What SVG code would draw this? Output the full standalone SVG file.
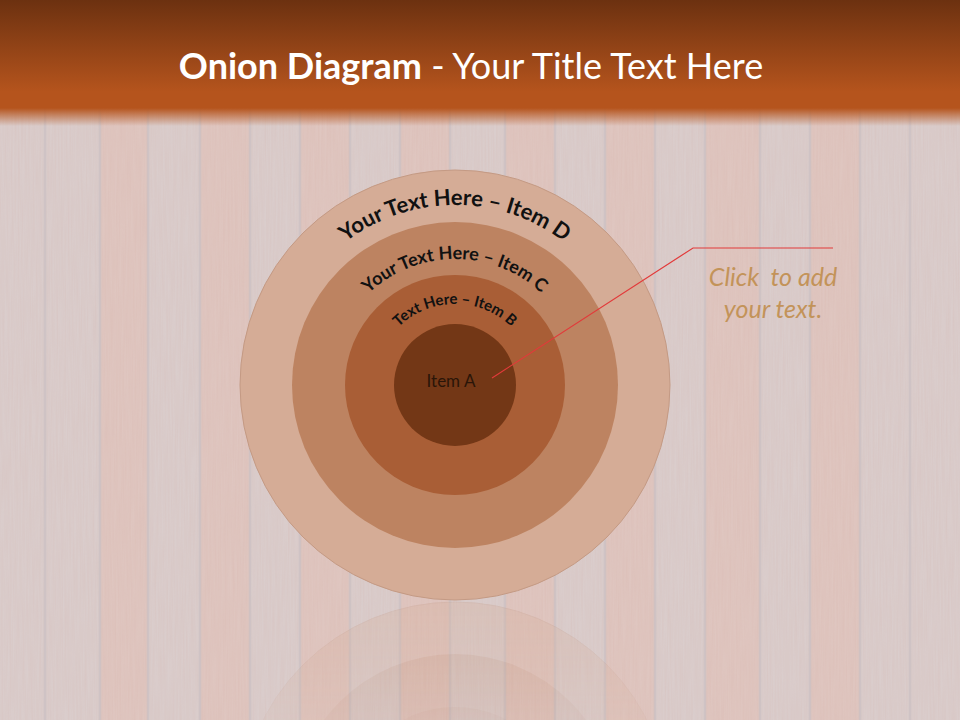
<svg xmlns="http://www.w3.org/2000/svg" width="960" height="720" viewBox="0 0 960 720">
  <defs>
    <linearGradient id="hdr" x1="0" y1="0" x2="0" y2="1">
      <stop offset="0" stop-color="#6c3110"/>
      <stop offset="0.85" stop-color="#b5541d"/>
      <stop offset="1" stop-color="#b5541d"/>
    </linearGradient>
    <linearGradient id="hdrfade" x1="0" y1="0" x2="0" y2="1">
      <stop offset="0" stop-color="#b5541d" stop-opacity="1"/>
      <stop offset="1" stop-color="#b5541d" stop-opacity="0"/>
    </linearGradient>
    <linearGradient id="reflFade" gradientUnits="userSpaceOnUse" x1="0" y1="600" x2="0" y2="720">
      <stop offset="0" stop-color="#fff" stop-opacity="0.3"/>
      <stop offset="1" stop-color="#fff" stop-opacity="0.1"/>
    </linearGradient>
    <mask id="reflMask" maskUnits="userSpaceOnUse" x="0" y="600" width="960" height="120">
      <rect x="0" y="600" width="960" height="120" fill="url(#reflFade)"/>
    </mask>
    <filter id="grain" x="0" y="0" width="100%" height="100%">
      <feTurbulence type="fractalNoise" baseFrequency="0.6 0.02" numOctaves="2" seed="4" result="n"/>
      <feColorMatrix type="matrix" values="0 0 0 0 0.6  0 0 0 0 0.3  0 0 0 0 0.25  0 0 0 0.5 -0.1"/>
    </filter>
    <path id="arcD" d="M 275 385 A 180 180 0 0 1 635 385"/>
    <path id="arcC" d="M 329 385 A 126 126 0 0 1 581 385"/>
    <path id="arcB" d="M 374 385 A 81 81 0 0 1 536 385"/>
    <style>
      .plankA { fill: #dacdcc; }
      .plankB { fill: #dfc6c0; }
      .seam { stroke: #cbc1c4; stroke-width: 2.5; opacity: 0.7; }
      .ring-d { fill: #d5ac96; stroke: #c49a84; stroke-width: 1; }
      .ring-c { fill: #bd8361; }
      .ring-b { fill: #a95e36; }
      .ring-a { fill: #733716; }
      .arc-text { font-family: Lato, "Open Sans", sans-serif; font-weight: bold; fill: #111; }
      .leader { fill: none; stroke: #e23a3a; stroke-width: 1.2; }
      .callout { font-family: Lato, "Open Sans", sans-serif; font-style: italic; font-size: 25px; fill: #c39359; white-space: pre; }
    </style>
  </defs>

  <!-- background wood planks -->
  <g id="background">
    <rect x="0" y="0" width="960" height="720" class="plankA"/>
    <rect x="100" y="0" width="48" height="720" class="plankB"/>
    <rect x="200" y="0" width="50" height="720" class="plankB"/>
    <rect x="300" y="0" width="50" height="720" class="plankB"/>
    <rect x="400" y="0" width="50" height="720" class="plankB"/>
    <rect x="505" y="0" width="50" height="720" class="plankB"/>
    <rect x="605" y="0" width="50" height="720" class="plankB"/>
    <rect x="705" y="0" width="55" height="720" class="plankB"/>
    <rect x="810" y="0" width="50" height="720" class="plankB"/>
    <rect x="0" y="0" width="960" height="720" filter="url(#grain)" opacity="0.3"/>
    <g class="seam">
      <line x1="45" y1="0" x2="45" y2="720"/>
      <line x1="100" y1="0" x2="100" y2="720"/>
      <line x1="148" y1="0" x2="148" y2="720"/>
      <line x1="200" y1="0" x2="200" y2="720"/>
      <line x1="250" y1="0" x2="250" y2="720"/>
      <line x1="300" y1="0" x2="300" y2="720"/>
      <line x1="350" y1="0" x2="350" y2="720"/>
      <line x1="400" y1="0" x2="400" y2="720"/>
      <line x1="450" y1="0" x2="450" y2="720"/>
      <line x1="505" y1="0" x2="505" y2="720"/>
      <line x1="555" y1="0" x2="555" y2="720"/>
      <line x1="605" y1="0" x2="605" y2="720"/>
      <line x1="655" y1="0" x2="655" y2="720"/>
      <line x1="705" y1="0" x2="705" y2="720"/>
      <line x1="760" y1="0" x2="760" y2="720"/>
      <line x1="810" y1="0" x2="810" y2="720"/>
      <line x1="860" y1="0" x2="860" y2="720"/>
      <line x1="910" y1="0" x2="910" y2="720"/>
    </g>
  </g>

  <!-- header band -->
  <g id="header">
    <rect x="0" y="0" width="960" height="108" fill="url(#hdr)"/>
    <rect x="0" y="108" width="960" height="18" fill="url(#hdrfade)"/>
    <text x="471" y="79" text-anchor="middle" font-family="Lato, 'Open Sans', sans-serif" font-size="36" fill="#ffffff"><tspan font-weight="bold">Onion Diagram</tspan><tspan> - Your Title Text Here</tspan></text>
  </g>

  <!-- reflection -->
  <g id="reflection" mask="url(#reflMask)">
    <g transform="translate(0,1202) scale(1,-1)">
      <circle cx="455" cy="385" r="215" class="ring-d"/>
      <circle cx="455" cy="385" r="163" class="ring-c"/>
      <circle cx="455" cy="385" r="110" class="ring-b"/>
      <circle cx="455" cy="385" r="61" class="ring-a"/>
    </g>
  </g>

  <g id="item-d">
    <circle cx="455" cy="385" r="215" class="ring-d"/>
  </g>
  <g id="item-c">
    <circle cx="455" cy="385" r="163" class="ring-c"/>
  </g>
  <g id="item-b">
    <circle cx="455" cy="385" r="110" class="ring-b"/>
  </g>
  <g id="item-a">
    <circle cx="455" cy="385" r="61" class="ring-a"/>
    <text x="451" y="387" text-anchor="middle" font-family="Lato, 'Open Sans', sans-serif" font-size="17" fill="#2a1508">Item A</text>
  </g>

  <g id="labels">
    <text class="arc-text" font-size="22"><textPath href="#arcD" startOffset="50%" text-anchor="middle">Your Text Here – Item D</textPath></text>
    <text class="arc-text" font-size="18"><textPath href="#arcC" startOffset="50%" text-anchor="middle">Your Text Here – Item C</textPath></text>
    <text class="arc-text" font-size="15"><textPath href="#arcB" startOffset="50%" text-anchor="middle">Text Here – Item B</textPath></text>
  </g>

  <g id="connectors">
    <polyline class="leader" points="492,378 693,248 833,248"/>
  </g>

  <g id="callout">
    <text x="773" y="286" text-anchor="middle" class="callout" xml:space="preserve">Click  to add</text>
    <text x="773" y="318" text-anchor="middle" class="callout">your text.</text>
  </g>
</svg>
